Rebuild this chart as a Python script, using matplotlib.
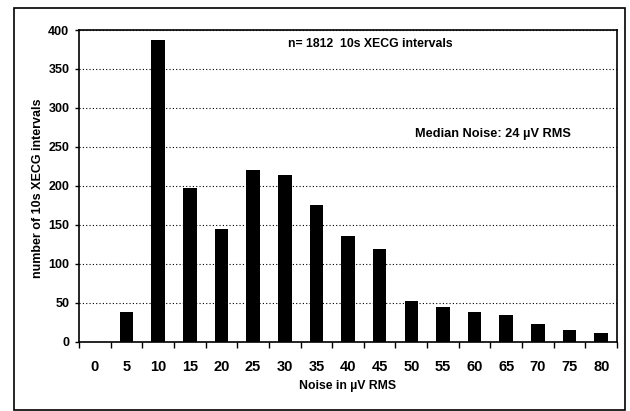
import matplotlib
matplotlib.use("Agg")
import matplotlib.pyplot as plt
from matplotlib.patches import Rectangle
import numpy as np

plt.rcParams['font.family'] = ['Liberation Sans', 'DejaVu Sans']
plt.rcParams['font.weight'] = 'bold'

# noise bins (uV RMS) and interval counts
noise_bins = ['0', '5', '10', '15', '20', '25', '30', '35', '40',
              '45', '50', '55', '60', '65', '70', '75', '80']
counts = [0, 39, 387, 197, 145, 220, 214, 175, 136,
          119, 53, 45, 39, 34, 23, 15, 11]
y_ticks = [0, 50, 100, 150, 200, 250, 300, 350, 400]

fig = plt.figure(figsize=(6.3, 4.11), dpi=100)
ax = fig.add_axes([0.1254, 0.168, 0.854, 0.759])

x = np.arange(len(noise_bins))
ax.bar(x, counts, width=0.43, color='black', zorder=3)

ax.set_xlim(-0.5, len(noise_bins) - 0.5)
ax.set_ylim(0, 400)
ax.set_yticks(y_ticks)
ax.set_yticklabels([str(v) for v in y_ticks], fontsize=9, fontweight='bold')
ax.set_xticks(x)
ax.set_xticklabels(noise_bins, fontsize=10.5, fontweight='bold')
ax.set_xticks(np.arange(-0.5, len(noise_bins)), minor=True)
ax.tick_params(axis='x', which='major', length=0, pad=13)
ax.tick_params(axis='x', which='minor', length=4, width=1, direction='out')
ax.tick_params(axis='y', length=3, width=1, direction='out', pad=4)

# dotted horizontal gridlines
ax.yaxis.grid(True, linestyle=(0, (1, 2)), color='black', linewidth=0.8)
ax.set_axisbelow(True)
for side in ['left', 'bottom', 'top', 'right']:
    ax.spines[side].set_linewidth(1.2)

ax.set_xlabel("Noise in µV RMS", fontsize=8.8, fontweight='bold', labelpad=4)
fig.text(38 / 630, 1 - 188 / 411, "number of 10s XECG intervals", rotation=90,
         fontsize=9, fontweight='bold', ha='center', va='center')

ax.text(0.541, 0.955, "n= 1812  10s XECG intervals", transform=ax.transAxes,
        fontsize=8.8, fontweight='bold', ha='center', va='center')
ax.text(0.77, 0.667, "Median Noise: 24 µV RMS", transform=ax.transAxes,
        fontsize=9.2, fontweight='bold', ha='center', va='center')

# outer chart frame
fig.patches.append(Rectangle((14 / 630, 0.003), 611 / 630, 1 - 8 / 411 - 0.003,
                             transform=fig.transFigure, fill=False,
                             edgecolor='black', linewidth=1.2))

fig.savefig("out.png", dpi=100)
